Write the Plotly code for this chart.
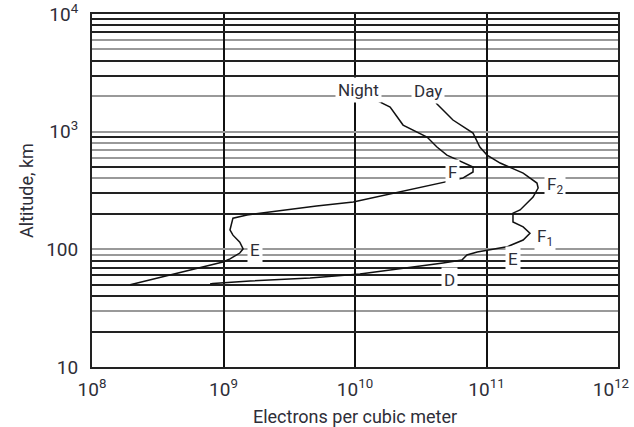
import math
import plotly.graph_objects as go

# Night profile (electrons per m^3, altitude km)
night_density = [1.30e10, 1.85e10, 2.32e10, 3.53e10, 4.2e10, 5.0e10, 7.9e10, 7.9e10, 6.6e10,
                 2.6e10, 9.7e9, 5.1e9, 1.51e9, 1.18e9, 1.12e9, 1.18e9, 1.33e9, 1.41e9, 1.33e9,
                 1.12e9, 9.9e8, 1.95e8]
night_alt = [1968, 1618, 1138, 900, 740, 632, 500, 454, 403,
             319, 252, 233, 196, 184, 146, 132, 115, 101, 93,
             83, 78, 50]

# Day profile
day_density = [4.13e10, 5.56e10, 7.9e10, 8.9e10, 1.01e11, 1.27e11, 1.90e11, 2.42e11, 2.47e11,
               2.26e11, 1.80e11, 1.59e11, 1.59e11, 1.90e11, 2.14e11, 1.90e11, 1.43e11, 8.5e10,
               7.1e10, 6.5e10, 4.67e10, 1.09e10, 4.55e9, 1.59e9, 8.3e8, 7.9e8]
day_alt = [1750, 1256, 973, 740, 632, 541, 445, 366, 332,
           278, 216, 203, 171, 155, 137, 120, 105, 95,
           89.5, 81, 76.6, 61.7, 57, 53.9, 51.2, 50.7]

# Layer labels
label_text = ["Night", "Day", "F", "F<sub>2</sub>", "F<sub>1</sub>", "E", "D", "E"]
label_x = [1.07e10, 3.59e10, 5.47e10, 3.31e11, 2.79e11, 1.58e11, 5.27e10, 1.74e9]
label_y = [2256, 2213, 454, 352, 125, 82.8, 54.8, 98.6]

x_tickvals = [1e8, 1e9, 1e10, 1e11, 1e12]
x_ticktext = ["10<sup>8</sup>", "10<sup>9</sup>", "10<sup>10</sup>", "10<sup>11</sup>",
              "10<sup>12</sup>&nbsp;&nbsp;&nbsp;"]
y_tickvals = [10, 100, 1000, 10000]
y_ticktext = ["10", "100", "10<sup>3</sup>", "10<sup>4</sup>"]
y_grid_gray = [30, 90, 400, 600, 700, 800, 2000, 5000, 6000]
y_grid_dark = [20, 40, 50, 60, 70, 80, 200, 300, 500, 900, 3000, 4000, 7000, 8000, 9000]

FONT = "Roboto, Liberation Sans, sans-serif"
TXT = "#2e2e38"

fig = go.Figure()
fig.add_trace(go.Scatter(x=night_density, y=night_alt, mode="lines",
                         line=dict(color="#111", width=1.5), showlegend=False))
fig.add_trace(go.Scatter(x=day_density, y=day_alt, mode="lines",
                         line=dict(color="#111", width=1.5), showlegend=False))
# invisible trace to activate secondary y axis gridlines
fig.add_trace(go.Scatter(x=[1e8], y=[10], yaxis="y2", mode="markers",
                         marker=dict(opacity=0), showlegend=False, hoverinfo="skip"))

for t, x, y in zip(label_text, label_x, label_y):
    fig.add_annotation(x=math.log10(x), y=math.log10(y), text=t,
                       showarrow=False, bgcolor="white", borderpad=2,
                       font=dict(family=FONT, size=17, color=TXT))

fig.update_layout(
    width=634, height=427,
    margin=dict(l=92, r=16, t=14, b=60),
    paper_bgcolor="white", plot_bgcolor="white",
    font=dict(family=FONT, color=TXT),
    xaxis=dict(type="log", range=[8, 12], tickvals=x_tickvals, ticktext=x_ticktext,
               showgrid=True, gridcolor="#111", gridwidth=1.5, automargin=False,
               showline=True, linecolor="#222", linewidth=2, mirror=True,
               ticks="", zeroline=False, ticklabelstandoff=4, ticklabeloverflow="allow",
               tickfont=dict(family=FONT, size=19, color=TXT),
               title=dict(text="Electrons per cubic meter", standoff=14,
                          font=dict(family=FONT, size=18, color=TXT))),
    yaxis=dict(type="log", range=[1, 4], tickvals=y_tickvals, ticktext=y_ticktext,
               showgrid=True, gridcolor="#999", gridwidth=2, automargin=False,
               minor=dict(tickvals=y_grid_gray, showgrid=True, gridcolor="#999", gridwidth=2, ticks=""),
               showline=True, linecolor="#222", linewidth=2, mirror=True,
               ticks="", zeroline=False, ticklabelstandoff=8,
               tickfont=dict(family=FONT, size=19, color=TXT),
               title=dict(text="Altitude, km", standoff=8,
                          font=dict(family=FONT, size=18, color=TXT))),
    yaxis2=dict(type="log", range=[1, 4], overlaying="y", tickvals=y_grid_dark,
                showticklabels=False, showgrid=True, gridcolor="#222", gridwidth=1.5,
                automargin=False, ticks="", zeroline=False, showline=False),
)
fig.write_html("out.html")
